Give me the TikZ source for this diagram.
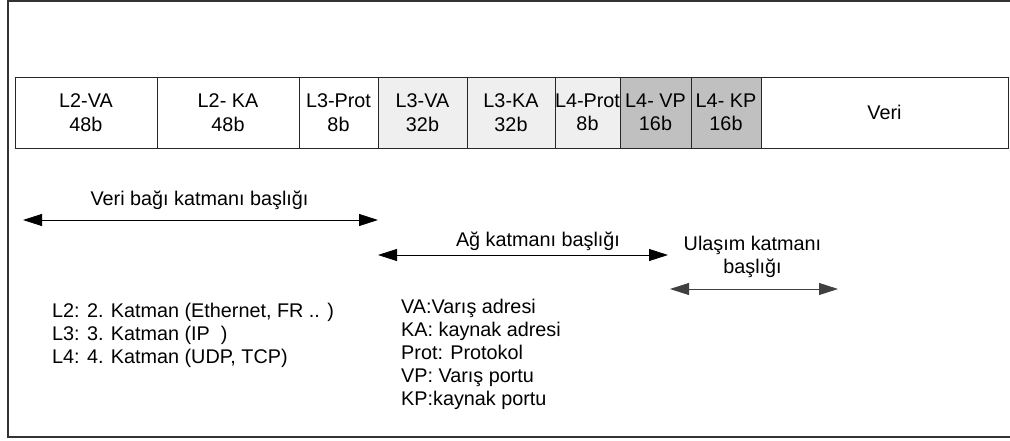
\documentclass[tikz,border=0pt]{standalone}
\usepackage{fontspec}
\setmainfont{Liberation Sans}
\usetikzlibrary{arrows.meta}
\definecolor{lightfield}{HTML}{EFEFEF}
\definecolor{darkfield}{HTML}{C0C0C0}
\begin{document}
\begin{tikzpicture}[x=1pt,y=-1pt,
  every node/.style={font=\fontsize{19.8}{23.4}\selectfont},
  cell/.style={draw=black!85, line width=0.9pt, inner sep=0pt, minimum height=71pt, align=center},
  span/.style={{Triangle[length=19pt,width=12pt]}-{Triangle[length=19pt,width=12pt]}, line width=0.8pt},
  title/.style={anchor=base, inner sep=0pt},
  legend/.style={anchor=base west, inner sep=0pt}]
\useasboundingbox (0,0) rectangle (1010,441);
% outer frame, open on the right
\draw[line width=1.4pt, black!80] (1020,1) -- (8,1) -- (8,437) -- (1020,437);

% header fields
\node[cell, minimum width=142pt] (l2va)  at (86,112.5)  {L2-VA\\48b};
\node[cell, minimum width=142pt] (l2ka)  at (228,112.5) {L2- KA\\48b};
\node[cell, minimum width=79pt]  (l3pr)  at (338.5,112.5) {L3-Prot\\8b};
\node[cell, minimum width=89pt, fill=lightfield] (l3va) at (422.5,112.5) {L3-VA\\32b};
\node[cell, minimum width=88pt, fill=lightfield] (l3ka) at (511,112.5) {L3-KA\\32b};
\node[cell, minimum width=65pt, fill=lightfield] (l4pr) at (587.5,112.5) {L4-Prot\\8b};
\node[cell, minimum width=71pt, fill=darkfield] (l4vp) at (655.5,112.5) {L4- VP\\16b};
\node[cell, minimum width=70pt, fill=darkfield] (l4kp) at (726,112.5) {L4- KP\\16b};
\node[cell, minimum width=247pt] (veri) at (884.5,112.5) {Veri};

% layer header spans
\coordinate (dlA) at (23,220);
\coordinate (dlB) at (378,220);
\draw[span] (dlA) -- (dlB);
\node[title] (dltxt) at (199.5,205) {Veri bağı katmanı başlığı};

\coordinate (nwA) at (378,255);
\coordinate (nwB) at (668,255);
\draw[span] (nwA) -- (nwB);
\node[title] (nwtxt) at (538,246) {Ağ katmanı başlığı};

\coordinate (trA) at (670,289);
\coordinate (trB) at (838,289);
\draw[span, black!75] (trA) -- (trB);
\node[title] (trtxt1) at (752.5,251) {Ulaşım katmanı};
\node[title] (trtxt2) at (752.5,273) {başlığı};

% layer names
\node[legend] (lyr2) at (52,317) {L2: 2. Katman (Ethernet, FR .. )};
\node[legend] (lyr3) at (52,340) {L3: 3. Katman (IP\ \ )};
\node[legend] (lyr4) at (52,363) {L4: 4. Katman (UDP, TCP)};

% field abbreviations
\node[legend] (abVA)   at (401,313) {VA:Varış adresi};
\node[legend] (abKA)   at (401,336) {KA: kaynak adresi};
\node[legend] (abProt) at (401,359) {Prot: Protokol};
\node[legend] (abVP)   at (401,382) {VP: Varış portu};
\node[legend] (abKP)   at (401,405) {KP:kaynak portu};
\end{tikzpicture}
\end{document}
